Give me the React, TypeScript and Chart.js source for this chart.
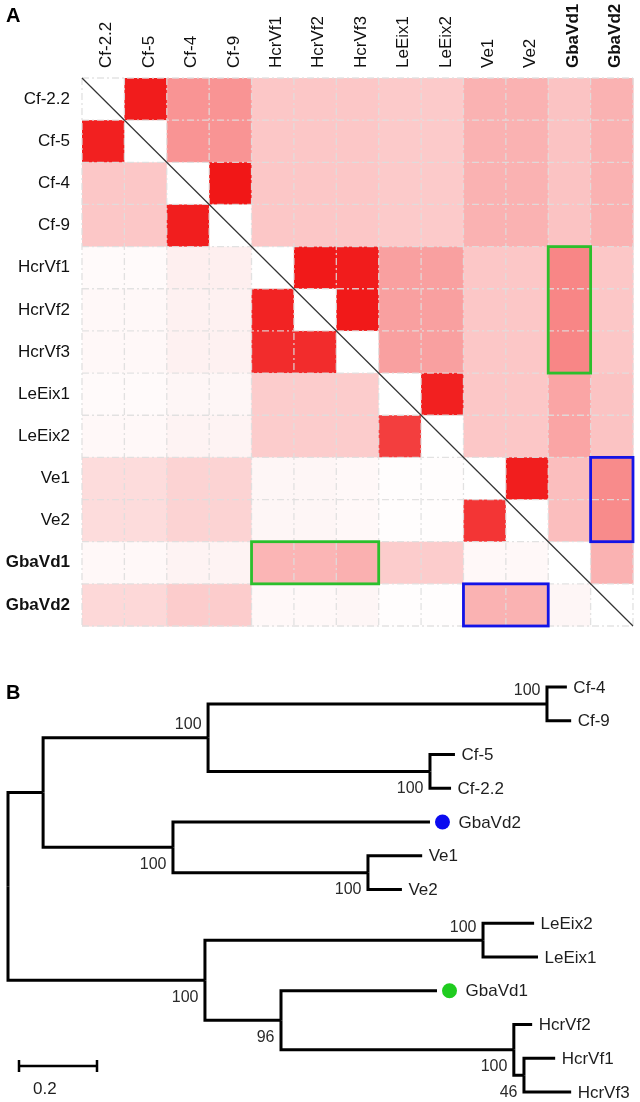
import React, { useEffect, useRef } from 'react';
import { Chart, registerables } from 'chart.js';

Chart.register(...registerables);

// ---------- Panel A data ----------
const seqLabels = ['Cf-2.2', 'Cf-5', 'Cf-4', 'Cf-9', 'HcrVf1', 'HcrVf2', 'HcrVf3', 'LeEix1', 'LeEix2', 'Ve1', 'Ve2', 'GbaVd1', 'GbaVd2'];
const boldLabels = ['GbaVd1', 'GbaVd2'];

// colour intensity (0-100) per pair; null on the diagonal
const rowCf22 = [null, 98, 46, 46, 24, 24, 24, 23, 23, 33, 33, 26, 33];
const rowCf5 = [96, null, 46, 46, 24, 24, 24, 23, 23, 33, 33, 26, 33];
const rowCf4 = [24, 24, null, 100, 24, 24, 24, 23, 23, 33, 33, 26, 33];
const rowCf9 = [24, 24, 97, null, 24, 24, 24, 23, 23, 33, 33, 26, 33];
const rowHcrVf1 = [2, 2, 7, 7, null, 99, 98, 41, 41, 24, 24, 52, 24];
const rowHcrVf2 = [3, 3, 6, 6, 95, null, 99, 41, 41, 24, 24, 52, 24];
const rowHcrVf3 = [3, 3, 6, 6, 91, 91, null, 41, 41, 24, 24, 52, 24];
const rowLeEix1 = [2, 2, 4, 4, 22, 22, 22, null, 96, 24, 24, 39, 26];
const rowLeEix2 = [3, 3, 5, 5, 22, 22, 22, 83, null, 24, 24, 39, 26];
const rowVe1 = [15, 15, 19, 19, 4, 4, 3, 1, 1, null, 97, 28, 50];
const rowVe2 = [15, 15, 19, 19, 4, 4, 3, 1, 1, 87, null, 28, 50];
const rowGbaVd1 = [3, 3, 5, 5, 32, 32, 34, 22, 22, 3, 3, null, 33];
const rowGbaVd2 = [17, 17, 22, 22, 3, 3, 4, 1, 1, 33, 33, 4, null];
const heatRows = [rowCf22, rowCf5, rowCf4, rowCf9, rowHcrVf1, rowHcrVf2, rowHcrVf3, rowLeEix1, rowLeEix2, rowVe1, rowVe2, rowGbaVd1, rowGbaVd2];

// highlighted blocks: [firstRow, lastRow, firstCol, lastCol]
const greenBoxes = [['HcrVf1', 'HcrVf3', 'GbaVd1', 'GbaVd1'], ['GbaVd1', 'GbaVd1', 'HcrVf1', 'HcrVf3']];
const blueBoxes = [['Ve1', 'Ve2', 'GbaVd2', 'GbaVd2'], ['GbaVd2', 'GbaVd2', 'Ve1', 'Ve2']];

// ---------- Panel B data ----------
const treeNodes = ['root', 'A', 'B', 'CfC', 'VeC', 'Cf49', 'Cf-4', 'Cf-9', 'Cf52', 'Cf-5', 'Cf-2.2', 'GbaVd2', 'Ve12', 'Ve1', 'Ve2', 'LeE', 'LeEix2', 'LeEix1', 'G1', 'GbaVd1', 'HcrN', 'HcrVf2', 'H13', 'HcrVf1', 'HcrVf3'];
const treeParents = [null, 'root', 'root', 'A', 'A', 'CfC', 'Cf49', 'Cf49', 'CfC', 'Cf52', 'Cf52', 'VeC', 'VeC', 'Ve12', 'Ve12', 'B', 'LeE', 'LeE', 'B', 'G1', 'G1', 'HcrN', 'HcrN', 'H13', 'H13'];
const branchLengths = [0, 0.090, 0.505, 0.423, 0.333, 0.869, 0.051, 0.062, 0.569, 0.064, 0.054, 0.659, 0.500, 0.139, 0.087, 0.713, 0.131, 0.141, 0.195, 0.400, 0.597, 0.047, 0.026, 0.080, 0.121];
const bootNodes = ['CfC', 'Cf49', 'Cf52', 'VeC', 'Ve12', 'LeE', 'B', 'G1', 'HcrN', 'H13'];
const bootValues = ['100', '100', '100', '100', '100', '100', '100', '96', '100', '46'];
const bootAbove = [true, true, false, false, false, true, false, false, false, false];
const markedLeaves = ['GbaVd2', 'GbaVd1'];
const markerColors = ['#0b0bf0', '#1fcc1f'];
const scaleBarLength = 0.2;

const FONT = '"Liberation Sans", Arial, Helvetica, sans-serif';
const NARROW = '"Liberation Sans Narrow", "Arial Narrow", "Liberation Sans", Arial, sans-serif';

function cellColor(v: number | null) {
  if (v == null) return '#ffffff';
  const t = v / 100;
  const r = Math.round(255 - 14 * t);
  const g = Math.round(255 - 232 * t);
  return `rgb(${r},${g},${g})`;
}

const cellPoints: { x: string; y: string; v: number | null }[] = [];
heatRows.forEach((row, i) => row.forEach((v, j) => cellPoints.push({ x: seqLabels[j], y: seqLabels[i], v })));

const heatPlugin = {
  id: 'heatCells',
  beforeDatasetsDraw(chart: any) {
    const { ctx } = chart;
    const xs = chart.scales.x;
    const ys = chart.scales.y;
    const n = seqLabels.length;
    const cw = Math.abs(xs.getPixelForValue(1) - xs.getPixelForValue(0));
    const ch = Math.abs(ys.getPixelForValue(1) - ys.getPixelForValue(0));
    const meta = chart.getDatasetMeta(0);
    ctx.save();
    meta.data.forEach((pt: any, k: number) => {
      ctx.fillStyle = cellColor(cellPoints[k].v);
      ctx.fillRect(pt.x - cw / 2, pt.y - ch / 2, cw + 0.5, ch + 0.5);
    });
    // dashed grid
    ctx.strokeStyle = 'rgba(222,222,222,0.88)';
    ctx.lineWidth = 1.3;
    ctx.setLineDash([7, 3, 2, 3]);
    const x0 = xs.getPixelForValue(-0.5);
    const x1 = xs.getPixelForValue(n - 0.5);
    const y0 = ys.getPixelForValue(-0.5);
    const y1 = ys.getPixelForValue(n - 0.5);
    for (let k = 0; k <= n; k++) {
      const gx = xs.getPixelForValue(k - 0.5);
      const gy = ys.getPixelForValue(k - 0.5);
      ctx.beginPath();
      ctx.moveTo(gx, y0);
      ctx.lineTo(gx, y1);
      ctx.stroke();
      ctx.beginPath();
      ctx.moveTo(x0, gy);
      ctx.lineTo(x1, gy);
      ctx.stroke();
    }
    ctx.setLineDash([]);
    // diagonal
    ctx.strokeStyle = '#333';
    ctx.lineWidth = 1.2;
    ctx.beginPath();
    ctx.moveTo(x0, y0);
    ctx.lineTo(x1, y1);
    ctx.stroke();
    // boxes
    const drawBoxes = (boxes: string[][], color: string) => {
      ctx.strokeStyle = color;
      ctx.lineWidth = 2.8;
      boxes.forEach(([r0, r1, c0, c1]) => {
        const bx0 = xs.getPixelForValue(seqLabels.indexOf(c0) - 0.5);
        const bx1 = xs.getPixelForValue(seqLabels.indexOf(c1) + 0.5);
        const by0 = ys.getPixelForValue(seqLabels.indexOf(r0) - 0.5);
        const by1 = ys.getPixelForValue(seqLabels.indexOf(r1) + 0.5);
        ctx.strokeRect(bx0, by0, bx1 - bx0, by1 - by0);
      });
    };
    drawBoxes(greenBoxes, '#2cbf2c');
    drawBoxes(blueBoxes, '#1414e6');
    ctx.restore();
  },
  afterDraw(chart: any) {
    const { ctx } = chart;
    ctx.save();
    ctx.fillStyle = '#000';
    ctx.font = `bold 20px ${FONT}`;
    ctx.textAlign = 'left';
    ctx.textBaseline = 'alphabetic';
    ctx.fillText('A', 6, 22);
    ctx.restore();
  },
};

// ---------- tree layout (derived from data) ----------
function buildTree() {
  const idx: Record<string, number> = {};
  treeNodes.forEach((n, i) => (idx[n] = i));
  const children: number[][] = treeNodes.map(() => []);
  treeParents.forEach((p, i) => {
    if (p != null) children[idx[p]].push(i);
  });
  const cumX: number[] = treeNodes.map(() => 0);
  const yPos: number[] = treeNodes.map(() => 0);
  let leafCounter = 0;
  const visit = (i: number, base: number) => {
    cumX[i] = base + branchLengths[i];
    if (children[i].length === 0) {
      yPos[i] = leafCounter++;
    } else {
      children[i].forEach((c) => visit(c, cumX[i]));
      const ys = children[i].map((c) => yPos[c]);
      yPos[i] = (Math.min(...ys) + Math.max(...ys)) / 2;
    }
  };
  visit(0, 0);
  return { idx, children, cumX, yPos, leafCount: leafCounter };
}

const tree = buildTree();

const treeDatasets = treeNodes
  .map((name, i) => {
    const p = treeParents[i];
    if (p == null) return null;
    const pi = tree.idx[p];
    return {
      label: name,
      data: [
        { x: tree.cumX[pi], y: tree.yPos[pi] },
        { x: tree.cumX[pi], y: tree.yPos[i] },
        { x: tree.cumX[i], y: tree.yPos[i] },
      ],
      showLine: true,
      borderColor: '#000',
      borderWidth: 3,
      pointRadius: 0,
      pointHoverRadius: 0,
      borderJoinStyle: 'miter',
      borderCapStyle: 'butt',
      tension: 0,
      clip: false,
    };
  })
  .filter(Boolean);

const treePlugin = {
  id: 'treeText',
  afterDatasetsDraw(chart: any) {
    const { ctx } = chart;
    const xs = chart.scales.x;
    const ys = chart.scales.y;
    ctx.save();
    // leaf labels and markers
    treeNodes.forEach((name, i) => {
      if (tree.children[i].length > 0) return;
      const px = xs.getPixelForValue(tree.cumX[i]);
      const py = ys.getPixelForValue(tree.yPos[i]);
      const m = markedLeaves.indexOf(name);
      let lx = px + 6.5;
      if (m >= 0) {
        ctx.fillStyle = markerColors[m];
        ctx.beginPath();
        ctx.arc(px + 12.5, py, 7.5, 0, Math.PI * 2);
        ctx.fill();
        lx = px + 28.5;
      }
      ctx.fillStyle = '#1e1e1e';
      ctx.font = `17px ${FONT}`;
      ctx.textAlign = 'left';
      ctx.textBaseline = 'middle';
      ctx.fillText(name, lx, py + 1);
    });
    // bootstrap values
    ctx.font = `16px ${NARROW}`;
    ctx.fillStyle = '#2a2a2a';
    ctx.textAlign = 'right';
    ctx.textBaseline = 'middle';
    bootNodes.forEach((name, k) => {
      const i = tree.idx[name];
      const px = xs.getPixelForValue(tree.cumX[i]);
      const py = ys.getPixelForValue(tree.yPos[i]);
      ctx.fillText(bootValues[k], px - 6.5, bootAbove[k] ? py - 13 : py + 17);
    });
    // scale bar
    const sbY = ys.getPixelForValue(tree.leafCount - 1) - 26;
    const sbX0 = xs.getPixelForValue(0) + 11;
    const sbX1 = sbX0 + (xs.getPixelForValue(scaleBarLength) - xs.getPixelForValue(0));
    ctx.strokeStyle = '#000';
    ctx.lineWidth = 2.5;
    ctx.beginPath();
    ctx.moveTo(sbX0, sbY);
    ctx.lineTo(sbX1, sbY);
    ctx.moveTo(sbX0, sbY - 6);
    ctx.lineTo(sbX0, sbY + 6);
    ctx.moveTo(sbX1, sbY - 6);
    ctx.lineTo(sbX1, sbY + 6);
    ctx.stroke();
    ctx.fillStyle = '#1e1e1e';
    ctx.font = `17px ${FONT}`;
    ctx.textAlign = 'left';
    ctx.fillText(String(scaleBarLength), sbX0 + 14, sbY + 23);
    // panel letter
    ctx.fillStyle = '#000';
    ctx.font = `bold 20px ${FONT}`;
    ctx.textBaseline = 'alphabetic';
    ctx.fillText('B', 6, 59);
    ctx.restore();
  },
};

function HeatmapPanel() {
  const ref = useRef<HTMLCanvasElement>(null);
  useEffect(() => {
    const chart = new Chart(ref.current!, {
      type: 'scatter',
      data: {
        datasets: [{ data: cellPoints as any, pointRadius: 0, pointHoverRadius: 0 }],
      },
      options: {
        animation: false,
        responsive: false,
        maintainAspectRatio: false,
        events: [],
        layout: { padding: { left: 0, top: 0, right: 7, bottom: 14 } },
        plugins: { legend: { display: false }, tooltip: { enabled: false } },
        scales: {
          x: {
            type: 'category',
            labels: seqLabels,
            position: 'top',
            offset: true,
            grid: { display: false, drawTicks: false, tickLength: 0 },
            border: { display: false },
            ticks: {
              autoSkip: false,
              minRotation: 90,
              maxRotation: 90,
              padding: 10,
              labelOffset: 24,
              color: '#111',
              font: (c: any) => ({ family: FONT, size: 17, weight: boldLabels.includes(seqLabels[c.index]) ? 'bold' : 'normal' }),
            },
            afterFit: (s: any) => {
              s.height = 78;
              s.paddingLeft = 0;
              s.paddingRight = 0;
            },
          } as any,
          y: {
            type: 'category',
            labels: seqLabels,
            offset: true,
            grid: { display: false, drawTicks: false, tickLength: 0 },
            border: { display: false },
            ticks: {
              autoSkip: false,
              padding: 12,
              color: '#111',
              font: (c: any) => ({ family: FONT, size: 17, weight: boldLabels.includes(seqLabels[c.index]) ? 'bold' : 'normal' }),
            },
            afterFit: (s: any) => {
              s.width = 82;
              s.paddingTop = 0;
              s.paddingBottom = 0;
            },
          } as any,
        },
      },
      plugins: [heatPlugin],
    });
    return () => chart.destroy();
  }, []);
  return <canvas ref={ref} width={640} height={640} style={{ position: 'absolute', left: 0, top: 0, display: 'block' }} />;
}

function TreePanel() {
  const ref = useRef<HTMLCanvasElement>(null);
  useEffect(() => {
    const chart = new Chart(ref.current!, {
      type: 'scatter',
      data: { datasets: treeDatasets as any },
      options: {
        animation: false,
        responsive: false,
        maintainAspectRatio: false,
        events: [],
        layout: { padding: { left: 8, right: 8, top: 47, bottom: 10 } },
        plugins: { legend: { display: false }, tooltip: { enabled: false } },
        scales: {
          x: { type: 'linear', display: false, min: 0, max: 1.6 },
          y: { type: 'linear', display: false, min: 0, max: tree.leafCount - 1, reverse: true },
        },
      },
      plugins: [treePlugin],
    });
    return () => chart.destroy();
  }, []);
  return <canvas ref={ref} width={640} height={462} style={{ position: 'absolute', left: 0, top: 640, display: 'block' }} />;
}

export default function App() {
  useEffect(() => {
    document.body.style.margin = '0';
    document.body.style.background = '#fff';
  }, []);
  return (
    <div style={{ position: 'relative', width: 640, height: 1102, background: '#fff', overflow: 'hidden' }}>
      <HeatmapPanel />
      <TreePanel />
    </div>
  );
}
